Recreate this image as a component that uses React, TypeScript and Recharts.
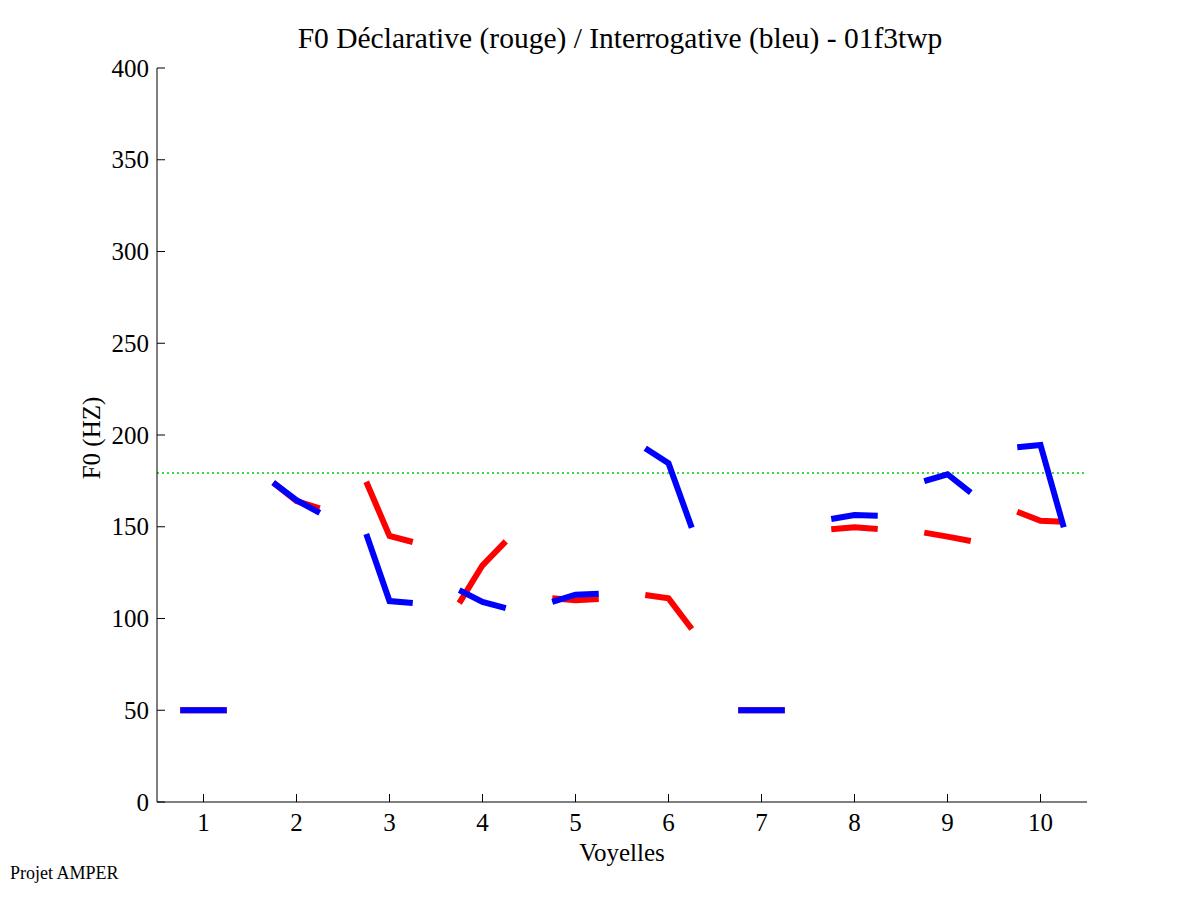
// @ts-nocheck
import React from 'react';
import { LineChart, Line, XAxis, YAxis, ReferenceLine } from 'recharts';

const C = {
  red: '#FF0000',
  blue: '#0000FF',
  green: '#00CC00',
  axis: '#000000',
  text: '#000000',
};

const FONT = '"Liberation Serif", "Times New Roman", serif';

// vowel positions on the x axis
const VOWELS = [1, 2, 3, 4, 5, 6, 7, 8, 9, 10];
const X_TICKS = [1, 2, 3, 4, 5, 6, 7, 8, 9, 10];
const Y_TICKS = [0, 50, 100, 150, 200, 250, 300, 350, 400];

// F0 per vowel: start / middle / end (Hz)
const DECLARATIVE = [
  [50, 50, 50],
  [174, 164, 160],
  [174.5, 145, 141.7],
  [108.4, 129, 142],
  [111, 110, 110.6],
  [112.8, 111, 94.3],
  [50, 50, 50],
  [148.6, 149.7, 148.8],
  [146.8, 144.6, 142.2],
  [158.2, 153.3, 152.7],
];

const INTERROGATIVE = [
  [50, 50, 50],
  [174, 164.5, 157.5],
  [146, 109.5, 108.4],
  [115.5, 109, 105.7],
  [109, 113, 113.5],
  [192.8, 184.6, 149.5],
  [50, 50, 50],
  [154.2, 156.4, 156],
  [174.9, 178.6, 168.6],
  [193.3, 194.6, 149.7],
];

const THRESHOLD = 179.3;

// three points per vowel, then a null row so each vowel is its own segment
const OFFSETS = [-0.25, 0, 0.25];
const DATA = VOWELS.flatMap((v, i) => [
  ...OFFSETS.map((o, k) => ({ x: v + o, decl: DECLARATIVE[i][k], inter: INTERROGATIVE[i][k] })),
  { x: v + 0.5, decl: null, inter: null },
]);

function XTick({ x, y, payload }) {
  return (
    <g>
      <line x1={x} x2={x} y1={y} y2={y - 8} stroke={C.axis} strokeWidth={1} />
      <text x={x} y={y + 29} textAnchor="middle" fontSize={25} fontFamily={FONT} fill={C.text}>
        {payload.value}
      </text>
    </g>
  );
}

function YTick({ x, y, payload }) {
  return (
    <g>
      <line x1={x} x2={x + 8} y1={y} y2={y} stroke={C.axis} strokeWidth={1} />
      <text x={x - 8} y={y + 8.5} textAnchor="end" fontSize={25} fontFamily={FONT} fill={C.text}>
        {payload.value}
      </text>
    </g>
  );
}

export default function App() {
  return (
    <div
      style={{
        position: 'absolute',
        left: 0,
        top: 0,
        width: 1201,
        height: 901,
        background: '#fff',
        fontFamily: FONT,
        color: C.text,
      }}
    >
      <LineChart
        width={1201}
        height={901}
        data={DATA}
        margin={{ top: 68, right: 114, bottom: 98, left: 156 }}
      >
        <XAxis
          dataKey="x"
          type="number"
          domain={[0.5, 10.5]}
          ticks={X_TICKS}
          allowDataOverflow
          height={1}
          tickSize={0}
          tickMargin={0}
          tickLine={false}
          axisLine={{ stroke: C.axis, strokeWidth: 1 }}
          tick={(p) => <XTick {...p} />}
        />
        <YAxis
          type="number"
          domain={[0, 400]}
          ticks={Y_TICKS}
          allowDataOverflow
          width={1}
          tickSize={0}
          tickMargin={0}
          tickLine={false}
          axisLine={{ stroke: C.axis, strokeWidth: 1 }}
          tick={(p) => <YTick {...p} />}
        />
        <ReferenceLine y={THRESHOLD} stroke={C.green} strokeWidth={1.5} strokeDasharray="2 3" />
        <Line
          type="linear"
          dataKey="decl"
          stroke={C.red}
          strokeWidth={6}
          dot={false}
          activeDot={false}
          connectNulls={false}
          isAnimationActive={false}
        />
        <Line
          type="linear"
          dataKey="inter"
          stroke={C.blue}
          strokeWidth={6}
          dot={false}
          activeDot={false}
          connectNulls={false}
          isAnimationActive={false}
        />
      </LineChart>

      <div
        style={{
          position: 'absolute',
          left: 155,
          width: 930,
          top: 24,
          textAlign: 'center',
          fontSize: 29.5,
          lineHeight: 1,
          whiteSpace: 'nowrap',
        }}
      >
        F0 Déclarative (rouge) / Interrogative (bleu) - 01f3twp
      </div>
      <div
        style={{
          position: 'absolute',
          left: 91,
          top: 438,
          transform: 'translate(-50%, -50%) rotate(-90deg)',
          fontSize: 25,
          lineHeight: 1,
          whiteSpace: 'nowrap',
        }}
      >
        F0 (HZ)
      </div>
      <div
        style={{
          position: 'absolute',
          left: 157,
          width: 930,
          top: 840,
          textAlign: 'center',
          fontSize: 25,
          lineHeight: 1,
        }}
      >
        Voyelles
      </div>
      <div style={{ position: 'absolute', left: 10, top: 864, fontSize: 18, lineHeight: 1 }}>Projet AMPER</div>
    </div>
  );
}
